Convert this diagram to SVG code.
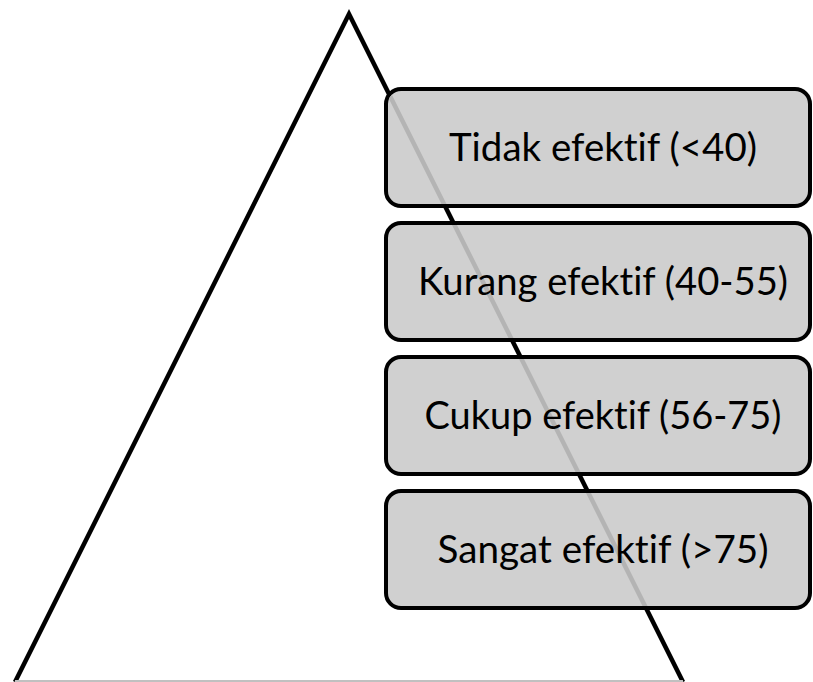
<svg xmlns="http://www.w3.org/2000/svg" width="813" height="682" viewBox="0 0 813 682">
<style>
.box{fill:#d0d0d0;stroke:#000;stroke-width:4}
.lbl{font-family:Lato,"Open Sans","Liberation Sans",sans-serif;font-size:38px;fill:#000;text-anchor:middle;font-variant-ligatures:none}
.tri{fill:none;stroke:#000;stroke-width:4.5;stroke-linejoin:miter}
.ghost{fill:none;stroke:#b4b4b4;stroke-width:4.5}
</style>
<defs>
<clipPath id="inside">
<rect x="388" y="91" width="420" height="113" rx="13"/>
<rect x="388" y="225" width="420" height="113" rx="13"/>
<rect x="388" y="359" width="420" height="113" rx="13"/>
<rect x="388" y="493" width="420" height="113" rx="13"/>
</clipPath>
</defs>
<rect width="813" height="682" fill="#fff"/>
<g id="triangle">
<polyline class="tri" points="15,682 349,14 683,682"/>
<line x1="15" y1="681" x2="683" y2="681" stroke="#c0c0c0" stroke-width="2"/>
</g>
<g id="node1">
<rect class="box" x="386" y="89" width="424" height="117" rx="15"/>
</g>
<g id="node2">
<rect class="box" x="386" y="223" width="424" height="117" rx="15"/>
</g>
<g id="node3">
<rect class="box" x="386" y="357" width="424" height="117" rx="15"/>
</g>
<g id="node4">
<rect class="box" x="386" y="491" width="424" height="117" rx="15"/>
</g>
<g id="connectors">
<polyline class="ghost" clip-path="url(#inside)" points="15,682 349,14 683,682"/>
</g>
<g id="labels">
<text class="lbl" x="603" y="161" textLength="308" lengthAdjust="spacingAndGlyphs">Tidak efektif (&lt;40)</text>
<text class="lbl" x="603" y="295" textLength="370" lengthAdjust="spacingAndGlyphs">Kurang efektif (40-55)</text>
<text class="lbl" x="603" y="429" textLength="357" lengthAdjust="spacingAndGlyphs">Cukup efektif (56-75)</text>
<text class="lbl" x="603" y="563" textLength="331" lengthAdjust="spacingAndGlyphs">Sangat efektif (&gt;75)</text>
</g>
</svg>
